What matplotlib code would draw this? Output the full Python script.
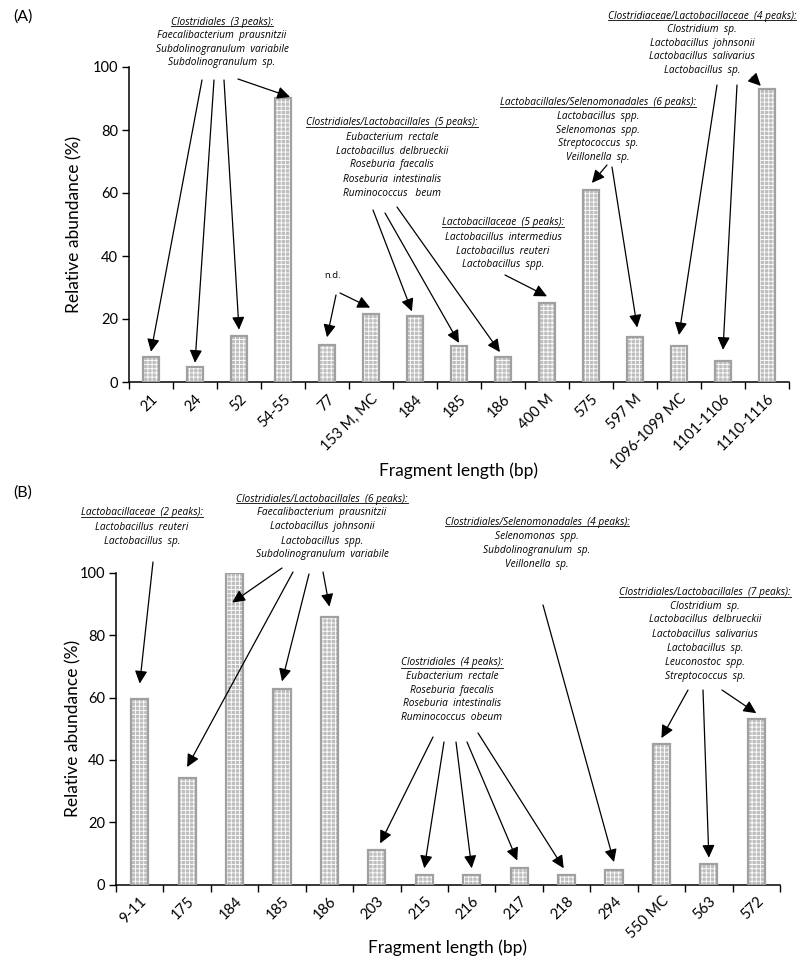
import matplotlib
matplotlib.use("Agg")
import matplotlib.pyplot as plt
from matplotlib.lines import Line2D

W, H = 803, 963

# ---- data -----------------------------------------------------------------
cats_a = ["21", "24", "52", "54-55", "77", "153 M, MC", "184", "185", "186",
          "400 M", "575", "597 M", "1096-1099 MC", "1101-1106", "1110-1116"]
vals_a = [8, 4.8, 14.6, 90, 11.7, 21.6, 20.9, 11.4, 8, 25, 61, 14.3, 11.4, 6.7, 93]

cats_b = ["9-11", "175", "184", "185", "186", "203", "215", "216", "217",
          "218", "294", "550 MC", "563", "572"]
vals_b = [59.5, 34.2, 100, 62.7, 86, 11, 3, 3, 5.2, 3, 4.6, 45, 6.6, 53]

yticks = [0, 20, 40, 60, 80, 100]

# annotation blocks: (header, species lines, centre x px, first line y px, line step px)
notes_a = [
    ("Clostridiales  (3 peaks):",
     ["Faecalibacterium  prausnitzii", "Subdolinogranulum  variabile",
      "Subdolinogranulum  sp."], 222, 22, 13.6),
    ("Clostridiales/Lactobacillales  (5 peaks):",
     ["Eubacterium  rectale", "Lactobacillus  delbrueckii", "Roseburia  faecalis",
      "Roseburia  intestinalis", "Ruminococcus   beum"], 392, 123, 14),
    ("Lactobacillaceae  (5 peaks):",
     ["Lactobacillus  intermedius", "Lactobacillus  reuteri", "Lactobacillus  spp."],
     503, 223, 14),
    ("Lactobacillales/Selenomonadales  (6 peaks):",
     ["Lactobacillus  spp.", "Selenomonas  spp.", "Streptococcus  sp.", "Veillonella  sp."],
     598, 103, 13.6),
    ("Clostridiaceae/Lactobacillaceae  (4 peaks):",
     ["Clostridium  sp.", "Lactobacillus  johnsonii", "Lactobacillus  salivarius",
      "Lactobacillus  sp."], 702, 16, 13.6),
]
notes_b = [
    ("Lactobacillaceae  (2 peaks):",
     ["Lactobacillus  reuteri", "Lactobacillus  sp."], 142, 513, 14),
    ("Clostridiales/Lactobacillales  (6 peaks):",
     ["Faecalibacterium  prausnitzii", "Lactobacillus  johnsonii", "Lactobacillus  spp.",
      "Subdolinogranulum  variabile"], 322, 499, 14),
    ("Clostridiales/Selenomonadales  (4 peaks):",
     ["Selenomonas  spp.", "Subdolinogranulum  sp.", "Veillonella  sp."], 537, 522, 14),
    ("Clostridiales  (4 peaks):",
     ["Eubacterium  rectale", "Roseburia  faecalis", "Roseburia  intestinalis",
      "Ruminococcus  obeum"], 452, 663, 13.6),
    ("Clostridiales/Lactobacillales  (7 peaks):",
     ["Clostridium  sp.", "Lactobacillus  delbrueckii", "Lactobacillus  salivarius",
      "Lactobacillus  sp.", "Leuconostoc  spp.", "Streptococcus  sp."], 705, 592, 14),
]

# arrows: (tail x px, tail y px, bar index, dx, dy) -> head at bar top + offset
arrows_a = [(202, 80, 0, 0, 1.6), (214, 80, 1, 0, 1.3), (224, 80, 2, 0, 2),
            (238, 79, 3, 0.16, 0.5), (336, 295, 4, 0, 2.5), (340, 293, 5, -0.02, 2),
            (373, 210, 6, -0.07, 1.5), (385, 213, 7, 0, 1), (397, 207, 8, -0.07, 1.5),
            (505, 275, 9, 0, 2.2), (607, 165, 10, 0.02, 2.2), (612, 167, 11, 0.05, 3),
            (717, 85, 12, 0, 3.5), (737, 85, 13, 0, 3.5), (752, 77, 14, -0.14, 1)]
arrows_b = [(153, 562, 0, 0, 5), (282, 568, 2, -0.05, -9.5), (293, 572, 1, 0, 3.5),
            (309, 574, 3, 0, 2.5), (323, 572, 4, 0, 3.2), (543, 605, 10, 0, 2.6),
            (433, 737, 5, 0.07, 2.2), (444, 742, 6, 0, 2.2), (456, 742, 7, 0, 2.2),
            (467, 742, 8, -0.04, 2.5), (478, 733, 9, -0.06, 2.2),
            (688, 690, 11, 0, 2), (703, 690, 12, 0, 2), (722, 690, 13, 0, 2)]


def px(x, y):
    return (x / W, 1 - y / H)


plt.rcParams["font.family"] = ["Lato", "DejaVu Sans"]
plt.rcParams["hatch.linewidth"] = 0.6

fig = plt.figure(figsize=(W / 100, H / 100), dpi=100)
ax_a = fig.add_axes([129 / W, 1 - 382 / H, 660 / W, 315 / H])
ax_b = fig.add_axes([116 / W, 1 - 884.5 / H, 664 / W, 311.5 / H])


def draw_panel(ax, cats, vals, ylab_x):
    x = list(range(len(cats)))
    # white dotted lattice on grey, then grey outline
    ax.bar(x, vals, width=0.36, color="#bebebe", edgecolor="white", hatch="++++",
           linewidth=0, zorder=2)
    ax.bar(x, vals, width=0.36, facecolor="none", edgecolor="#a0a0a0",
           linewidth=1.6, zorder=3)
    ax.set_xlim(-0.5, len(cats) - 0.5)
    ax.set_ylim(0, 100)
    ax.set_yticks(yticks)
    ax.set_xticks(x)
    ax.set_xticklabels(cats, rotation=45, ha="right", rotation_mode="anchor",
                       fontsize=10.5)
    ax.tick_params(axis="x", length=0, pad=7)
    ax.set_xticks([i - 0.5 for i in range(len(cats) + 1)], minor=True)
    ax.tick_params(axis="x", which="minor", length=5, width=1, direction="out")
    ax.tick_params(axis="y", length=5, width=1, labelsize=10.5, pad=3)
    for s in ("top", "right"):
        ax.spines[s].set_visible(False)
    for s in ("left", "bottom"):
        ax.spines[s].set_linewidth(1.1)
    ax.set_ylabel("Relative abundance (%)", fontsize=12.5)
    ax.yaxis.set_label_coords(ylab_x, 0.5)
    ax.set_xlabel("Fragment length (bp)", fontsize=12.5)


draw_panel(ax_a, cats_a, vals_a, -0.071)
draw_panel(ax_b, cats_b, vals_b, -0.052)
ax_a.xaxis.set_label_coords(0.5, -0.255)
ax_b.xaxis.set_label_coords(0.5, -0.175)

fig.text(*px(13, 17), "(A)", fontsize=11.5, va="center")
fig.text(*px(13, 493), "(B)", fontsize=11.5, va="center")
fig.text(*px(333, 275), "n.d.", fontsize=6.8, ha="center", va="center",
         family=["Open Sans", "DejaVu Sans"])

headers = []
for notes in (notes_a, notes_b):
    for head, lines, cx, y0, step in notes:
        t = fig.text(*px(cx, y0), head, fontsize=7.3, style="italic", ha="center",
                     va="center", family=["Open Sans", "DejaVu Sans"])
        headers.append(t)
        for k, line in enumerate(lines):
            fig.text(*px(cx, y0 + step * (k + 1)), line, fontsize=7.3, style="italic",
                     ha="center", va="center", family=["Open Sans", "DejaVu Sans"])

for ax, arrows, vals in ((ax_a, arrows_a, vals_a), (ax_b, arrows_b, vals_b)):
    for tx, ty, i, dx, dy in arrows:
        ax.annotate("", xy=(i + dx, vals[i] + dy), xycoords="data",
                    xytext=px(tx, ty), textcoords="figure fraction",
                    annotation_clip=False,
                    arrowprops=dict(arrowstyle="-|>,head_length=0.45,head_width=0.22",
                                    color="black", lw=0.9, mutation_scale=17,
                                    shrinkA=0, shrinkB=0))

# underline the group headers
fig.canvas.draw()
r = fig.canvas.get_renderer()
for t in headers:
    bb = t.get_window_extent(r)
    yl = (bb.y0 + 1) / H
    fig.add_artist(Line2D([bb.x0 / W, bb.x1 / W], [yl, yl], color="black", lw=0.6))

fig.savefig("out.png", dpi=100)
